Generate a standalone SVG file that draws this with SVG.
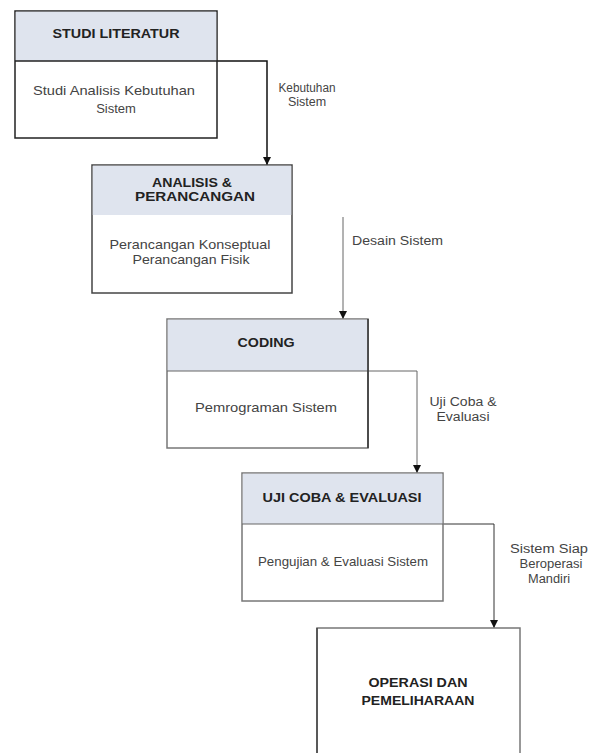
<svg xmlns="http://www.w3.org/2000/svg" width="591" height="753" viewBox="0 0 591 753">
<defs>
<marker id="ah" viewBox="0 0 10 10" refX="10" refY="5" markerWidth="8" markerHeight="8" markerUnits="userSpaceOnUse" orient="auto">
<path d="M0,0 L10,5 L0,10 z" fill="#111"/>
</marker>
<style>
.box{fill:#fff;stroke:#444;stroke-width:1.5}
.hdr{fill:#dfe4ee}
.ht{font-family:"Liberation Sans",Arial,sans-serif;font-size:12px;font-weight:bold;fill:#222;text-anchor:middle}
.bt{font-family:"Liberation Sans",Arial,sans-serif;font-size:13px;fill:#444;text-anchor:middle}
.lt{font-family:"Liberation Sans",Arial,sans-serif;font-size:12.5px;fill:#444;text-anchor:middle}
.con{fill:none;stroke:#666;stroke-width:1}
</style>
</defs>
<rect width="591" height="753" fill="#fff"/>
<g id="connectors">
<polyline class="con" style="stroke:#111;stroke-width:1.5" points="217,61 267,61 267,165" marker-end="url(#ah)"/>
<line class="con" x1="343" y1="217" x2="343" y2="319" marker-end="url(#ah)"/>
<polyline class="con" points="368,371 417,371 417,473" marker-end="url(#ah)"/>
<polyline class="con" style="stroke:#333" points="443,524 494,524 494,628" marker-end="url(#ah)"/>
<text class="lt" x="307" y="92" textLength="57" lengthAdjust="spacingAndGlyphs">Kebutuhan</text>
<text class="lt" x="307" y="106">Sistem</text>
<text class="lt" x="352" y="245" style="text-anchor:start" textLength="91" lengthAdjust="spacingAndGlyphs">Desain Sistem</text>
<text class="lt" x="463" y="406" textLength="67" lengthAdjust="spacingAndGlyphs">Uji Coba &amp;</text>
<text class="lt" x="463" y="421" textLength="53" lengthAdjust="spacingAndGlyphs">Evaluasi</text>
<text class="lt" x="549" y="553" textLength="78" lengthAdjust="spacingAndGlyphs">Sistem Siap</text>
<text class="lt" x="551" y="568" textLength="63" lengthAdjust="spacingAndGlyphs">Beroperasi</text>
<text class="lt" x="549" y="583" textLength="42" lengthAdjust="spacingAndGlyphs">Mandiri</text>
</g>
<g id="studi-literatur">
<rect class="box" x="15" y="11" width="202" height="127" style="stroke:#222"/>
<rect class="hdr" x="15.75" y="11.75" width="200.5" height="49.25"/>
<line x1="15" y1="61" x2="217" y2="61" stroke="#222" stroke-width="1.5"/>
<text class="ht" x="116" y="38" textLength="127" lengthAdjust="spacingAndGlyphs">STUDI LITERATUR</text>
<text class="bt" x="114" y="95" textLength="162" lengthAdjust="spacingAndGlyphs">Studi Analisis Kebutuhan</text>
<text class="bt" x="116" y="113">Sistem</text>
</g>
<g id="analisis">
<rect class="box" x="92" y="165" width="200" height="128"/>
<rect class="hdr" x="92.75" y="165.75" width="198.5" height="49.25"/>
<text class="ht" x="192" y="187" textLength="80" lengthAdjust="spacingAndGlyphs">ANALISIS &amp;</text>
<text class="ht" x="195" y="201" textLength="120" lengthAdjust="spacingAndGlyphs">PERANCANGAN</text>
<text class="bt" x="190" y="249" textLength="161" lengthAdjust="spacingAndGlyphs">Perancangan Konseptual</text>
<text class="bt" x="191" y="264" textLength="117" lengthAdjust="spacingAndGlyphs">Perancangan Fisik</text>
</g>
<g id="coding">
<rect class="box" x="167" y="319" width="201" height="129" style="stroke:#777"/>
<rect class="hdr" x="167.75" y="319.75" width="199.5" height="51.25"/>
<line x1="167" y1="371" x2="368" y2="371" stroke="#666" stroke-width="1"/>
<line x1="368" y1="319" x2="368" y2="448" stroke="#333" stroke-width="1.5"/>
<text class="ht" x="266" y="347" textLength="57" lengthAdjust="spacingAndGlyphs">CODING</text>
<text class="bt" x="266" y="412" textLength="142" lengthAdjust="spacingAndGlyphs">Pemrograman Sistem</text>
</g>
<g id="uji-coba">
<rect class="box" x="242" y="473" width="201" height="128" style="stroke:#777"/>
<rect class="hdr" x="242.75" y="473.75" width="199.5" height="50.25"/>
<line x1="242" y1="524" x2="443" y2="524" stroke="#666" stroke-width="1"/>
<text class="ht" x="342" y="502" textLength="159" lengthAdjust="spacingAndGlyphs">UJI COBA &amp; EVALUASI</text>
<text class="bt" x="343" y="566" textLength="170" lengthAdjust="spacingAndGlyphs">Pengujian &amp; Evaluasi Sistem</text>
</g>
<g id="operasi">
<rect class="box" x="317" y="628" width="203" height="140" style="stroke:#777"/>
<line x1="317" y1="628" x2="317" y2="753" stroke="#444" stroke-width="1.5"/>
<text class="ht" x="418" y="687" textLength="99" lengthAdjust="spacingAndGlyphs">OPERASI DAN</text>
<text class="ht" x="418" y="705" textLength="113" lengthAdjust="spacingAndGlyphs">PEMELIHARAAN</text>
</g>
</svg>
